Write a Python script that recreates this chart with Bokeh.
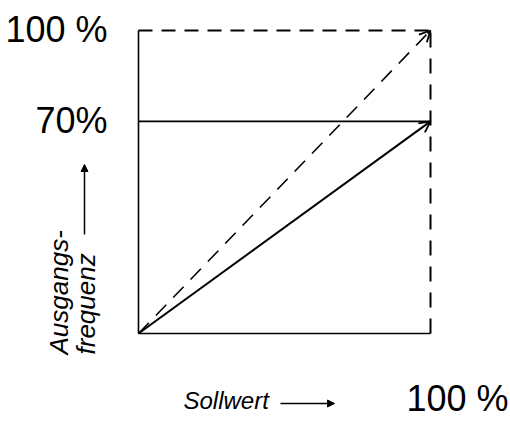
import math
from bokeh.plotting import figure
from bokeh.models import Range1d, Label, Arrow, OpenHead, NormalHead
from bokeh.embed import file_html
from bokeh.resources import INLINE

# ---- data -------------------------------------------------------------
setpoint = [0, 100]            # Sollwert, %
reference_output = [0, 100]    # dashed 1:1 line, %
limited_output = [0, 70]       # solid line, %
limit_level = [70, 70]         # 70 % horizontal limit
y_tick_values = [100, 70]
y_tick_labels = ["100 %", "70%"]
x_tick_label = "100 %"
x_label = "Sollwert"
y_label = ["Ausgangs-", "frequenz"]

FONT = "Liberation Sans"
INK = "black"

# canvas layout (pixels): diagram box spans x 138..430, y 30..333
W, H = 510, 422
BX0, BX1, BY0, BY1 = 138, 430, 333, 30
sx = (BX1 - BX0) / 100.0
sy = (BY0 - BY1) / 100.0

p = figure(width=W, height=H, output_backend="svg", toolbar_location=None,
           x_range=Range1d(-BX0 / sx, (W - BX0) / sx),
           y_range=Range1d(-(H - BY0) / sy, 100 + BY1 / sy),
           x_axis_location=None, y_axis_location=None,
           min_border=0)
p.grid.visible = False
p.outline_line_color = None
p.background_fill_color = "white"
p.border_fill_color = "white"

x0, x1 = setpoint[0], setpoint[-1]
y0, ytop = reference_output[0], reference_output[-1]

# frame of the diagram: left & bottom solid, top & right dashed
p.line([x0, x0], [y0, ytop], line_color=INK, line_width=1.6)
p.line([x0, x1], [y0, y0], line_color=INK, line_width=1.6)
p.line([x0, x1], [ytop, ytop], line_color=INK, line_width=1.8, line_dash="14 9")
p.line([x1, x1], [y0, ytop], line_color=INK, line_width=2.0, line_dash="15 11")

# characteristic lines
p.line(setpoint, reference_output, line_color=INK, line_width=1.6, line_dash="15 10")
p.line(setpoint, limited_output, line_color=INK, line_width=2.0)
p.line(setpoint, limit_level, line_color=INK, line_width=1.6)

# arrow heads at the line ends
for ys in (reference_output, limited_output):
    dx = (setpoint[1] - setpoint[0]) * 0.01
    dy = (ys[1] - ys[0]) * 0.01
    p.add_layout(Arrow(end=OpenHead(size=11, line_width=1.8, line_color=INK),
                       x_start=setpoint[1] - dx, y_start=ys[1] - dy,
                       x_end=setpoint[1], y_end=ys[1],
                       line_color=INK, line_width=1.8))

# y "tick" labels
for v, t in zip(y_tick_values, y_tick_labels):
    p.add_layout(Label(x=x0, y=v, text=t, x_offset=-31, y_offset=1,
                       text_align="right", text_baseline="middle", text_font=FONT,
                       text_font_size="36px", text_color=INK))

# x end label
p.add_layout(Label(x=x1, y=y0, text=x_tick_label, x_offset=27, y_offset=-65,
                   text_align="center", text_baseline="middle", text_font=FONT,
                   text_font_size="36px", text_color=INK))

# x axis title with arrow
p.add_layout(Label(x=x0, y=y0, text=x_label, x_offset=45, y_offset=-67,
                   text_align="left", text_baseline="middle", text_font=FONT,
                   text_font_style="italic", text_font_size="24px", text_color=INK))
p.add_layout(Arrow(end=NormalHead(size=7, fill_color=INK, line_color=INK),
                   x_start=(280 - BX0) / sx, y_start=-(403 - BY0) / sy,
                   x_end=(334 - BX0) / sx, y_end=-(403 - BY0) / sy,
                   line_color=INK, line_width=1.5))

# y axis title (rotated) with arrow
p.add_layout(Label(x=x0, y=y0, text=y_label[0], x_offset=-80, y_offset=-21,
                   angle=math.pi / 2, text_align="left", text_baseline="middle",
                   text_font=FONT, text_font_style="italic", text_font_size="26px",
                   text_color=INK))
p.add_layout(Label(x=x0, y=y0, text=y_label[1], x_offset=-53, y_offset=-21,
                   angle=math.pi / 2, text_align="left", text_baseline="middle",
                   text_font=FONT, text_font_style="italic", text_font_size="26px",
                   text_color=INK))
p.add_layout(Arrow(end=NormalHead(size=7, fill_color=INK, line_color=INK),
                   x_start=(84 - BX0) / sx, y_start=(BY0 - 234) / sy,
                   x_end=(84 - BX0) / sx, y_end=(BY0 - 164) / sy,
                   line_color=INK, line_width=1.5))

open("out.html", "w").write(file_html(p, INLINE))
